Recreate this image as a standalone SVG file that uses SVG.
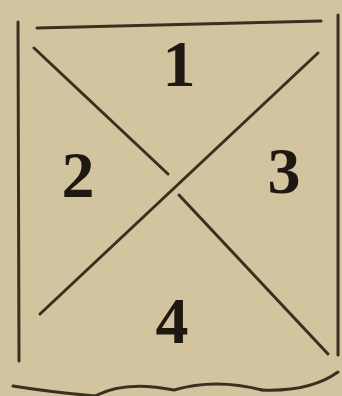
<svg xmlns="http://www.w3.org/2000/svg" width="342" height="396" viewBox="0 0 342 396">
  <style>
    .ln { stroke: #3b2f20; stroke-width: 3; fill: none; stroke-linecap: round; }
    .num { font-family: "Liberation Serif", "DejaVu Serif", serif; font-weight: bold; font-size: 66px; fill: #1e1810; text-anchor: middle; }
  </style>
  <rect x="0" y="0" width="342" height="396" fill="#d3c4a0"/>
  <g id="connectors">
    <line class="ln" x1="18" y1="22" x2="19" y2="361"/>
    <line class="ln" x1="338" y1="15" x2="338" y2="355"/>
    <line class="ln" x1="37" y1="28" x2="321" y2="21"/>
    <line class="ln" x1="34" y1="48" x2="168" y2="174"/>
    <line class="ln" x1="179" y1="195" x2="328" y2="354"/>
    <line class="ln" x1="318" y1="53" x2="40" y2="314"/>
    <path class="ln" stroke-width="2" d="M13,386 Q50,392 95,396"/>
    <path class="ln" stroke-width="4" d="M95,396 Q125,380 174,390 Q215,378 262,390"/>
    <path class="ln" stroke-width="2" d="M262,390 Q310,392 338,372"/>
  </g>
  <g id="n1"><text class="num" x="179" y="86">1</text></g>
  <g id="n2"><text class="num" x="78" y="197">2</text></g>
  <g id="n3"><text class="num" x="284" y="193">3</text></g>
  <g id="n4"><text class="num" x="172" y="343">4</text></g>
</svg>
